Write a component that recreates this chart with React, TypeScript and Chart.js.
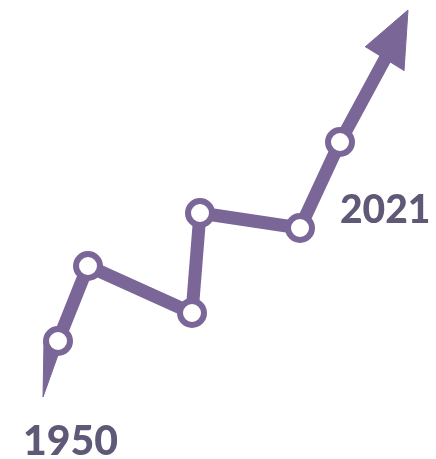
import { useEffect, useRef } from 'react';
import { Chart, registerables } from 'chart.js';

Chart.register(...registerables);

// Main path (x, y with y measured upward), last point is the arrow shaft end
const pathX = [58, 88, 192, 200, 300, 340, 386];
const pathY = [118, 193, 146, 246, 231, 317, 402];
const markerRadius = [12, 12, 12, 12, 12, 12, 0];
// Pointed tail below the first point
const tailX = [44, 43, 63];
const tailY = [118, 62, 118];
// Arrow head at the end
const headX = [365, 408, 404];
const headY = [412, 449, 388];
// Year labels
const yearLabels = ['1950', '2021'];
const yearX = [23, 340];
const yearY = [4, 236];
const yearSize = [41, 39];

const PURPLE = '#7b6698';
const TEXT = '#5f5877';

const toPts = (xs: number[], ys: number[]) => xs.map((x, i) => ({ x, y: ys[i] }));

const labelPlugin = {
  id: 'yearLabels',
  afterDraw(chart: any) {
    const { ctx, scales } = chart;
    ctx.save();
    ctx.fillStyle = TEXT;
    ctx.textAlign = 'left';
    ctx.textBaseline = 'alphabetic';
    yearLabels.forEach((t, i) => {
      ctx.font = `900 ${yearSize[i]}px Lato, "Open Sans", sans-serif`;
      ctx.fillText(t, scales.x.getPixelForValue(yearX[i]), scales.y.getPixelForValue(yearY[i]));
    });
    ctx.restore();
  },
};

export default function App() {
  const ref = useRef<HTMLCanvasElement>(null);
  useEffect(() => {
    if (!ref.current) return;
    const chart = new Chart(ref.current, {
      type: 'line',
      data: {
        datasets: [
          {
            data: toPts(pathX, pathY),
            borderColor: PURPLE,
            borderWidth: 13,
            borderJoinStyle: 'round',
            borderCapStyle: 'butt',
            tension: 0,
            pointRadius: markerRadius,
            pointBackgroundColor: '#ffffff',
            pointBorderColor: PURPLE,
            pointBorderWidth: 6,
            fill: false,
            order: 0,
            clip: false,
          },
          {
            data: toPts(tailX, tailY),
            borderColor: PURPLE,
            borderWidth: 1,
            backgroundColor: PURPLE,
            pointRadius: 0,
            tension: 0,
            fill: 'shape',
            order: 1,
            clip: false,
          },
          {
            data: toPts(headX, headY),
            borderColor: PURPLE,
            borderWidth: 1,
            backgroundColor: PURPLE,
            pointRadius: 0,
            tension: 0,
            fill: 'shape',
            order: 1,
            clip: false,
          },
        ] as any,
      },
      options: {
        animation: false,
        responsive: false,
        devicePixelRatio: 1,
        layout: { padding: 0, autoPadding: false },
        events: [],
        plugins: { legend: { display: false }, tooltip: { enabled: false }, title: { display: false } },
        scales: {
          x: { type: 'linear', min: 0, max: 436, display: false },
          y: { type: 'linear', min: 0, max: 459, display: false },
        },
      },
      plugins: [labelPlugin],
    });
    return () => chart.destroy();
  }, []);
  return (
    <div style={{ position: 'fixed', left: 0, top: 0, width: 436, height: 459, background: '#fff' }}>
      <canvas ref={ref} width={436} height={459} style={{ display: 'block' }} />
    </div>
  );
}
